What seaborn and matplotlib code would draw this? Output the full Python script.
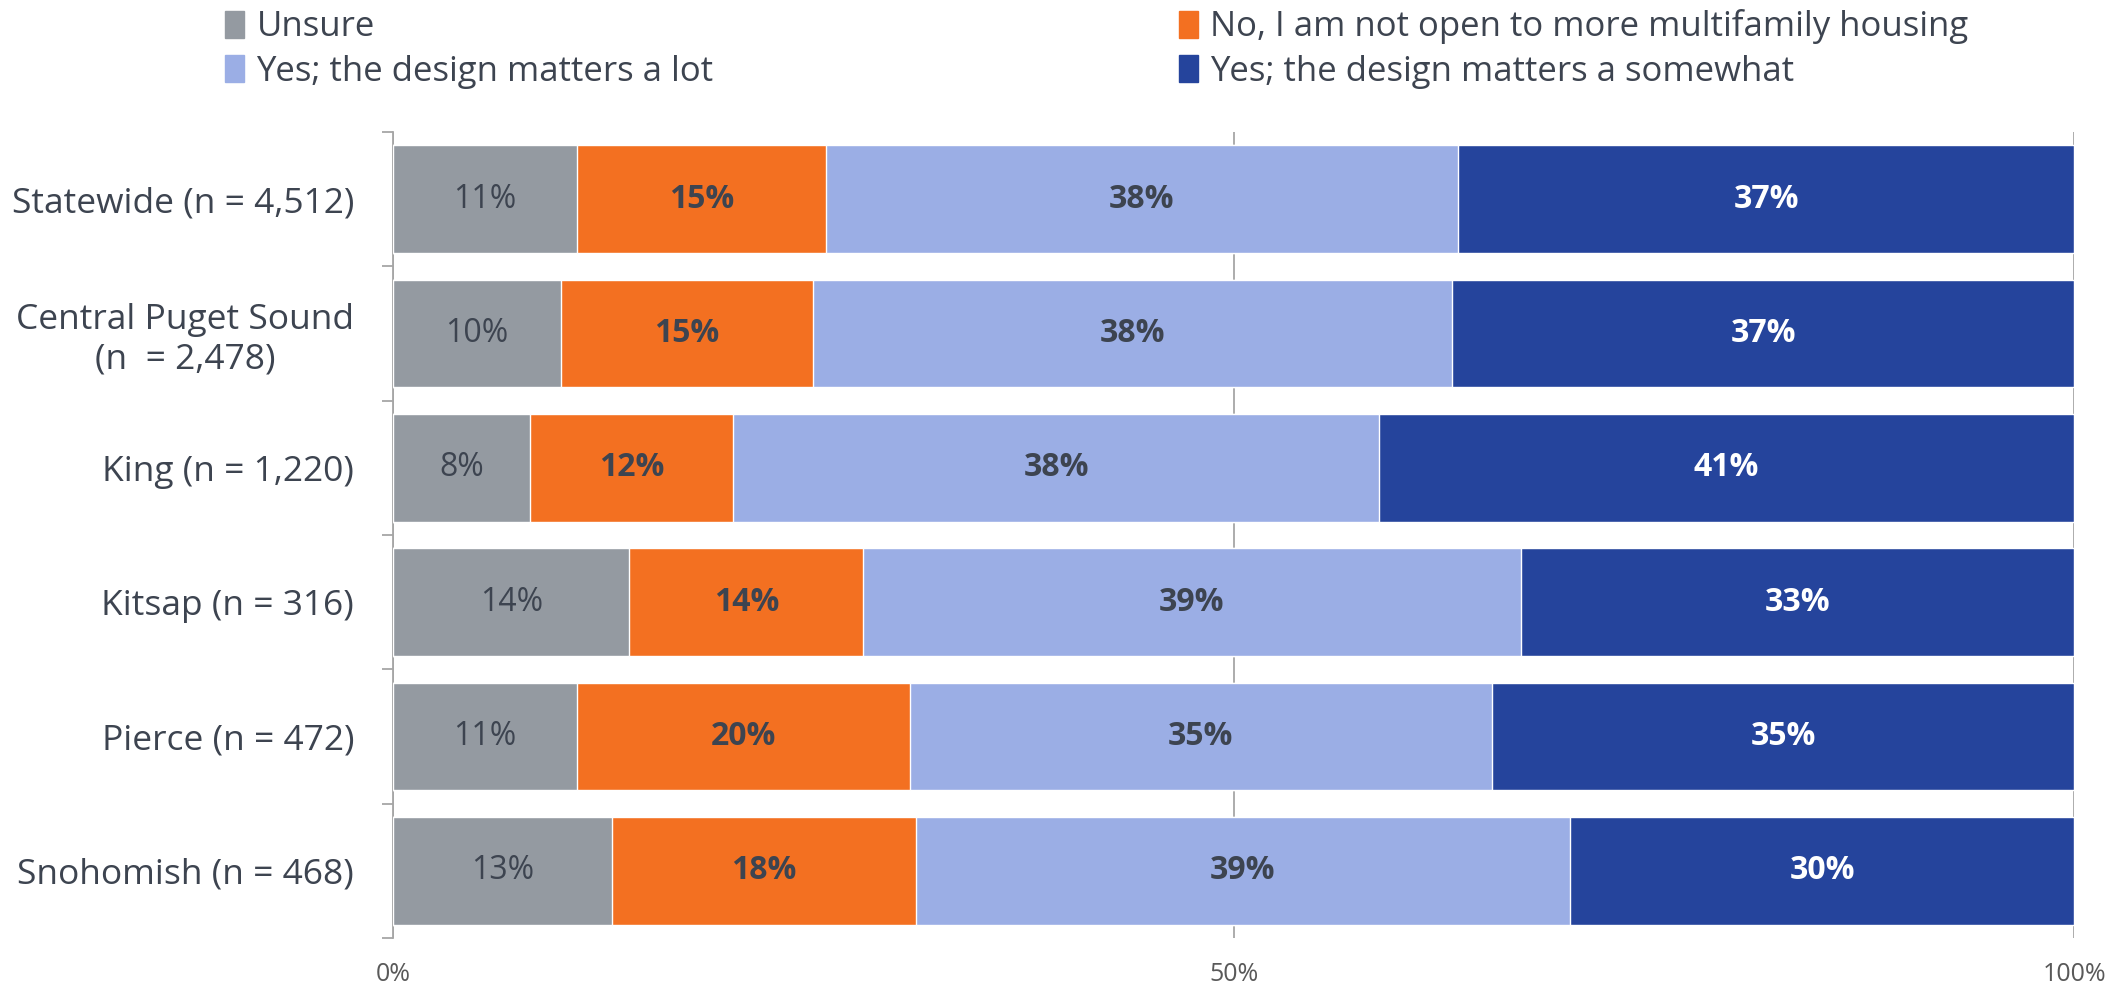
import numpy as np
import pandas as pd
import seaborn as sns
import matplotlib.pyplot as plt
from matplotlib.patches import Patch

# Data (share of respondents, %)
regions = ['Statewide (n = 4,512)', 'Central Puget Sound\n(n  = 2,478)', 'King (n = 1,220)',
           'Kitsap (n = 316)', 'Pierce (n = 472)', 'Snohomish (n = 468)']
unsure = [10.95, 10.0, 8.15, 14.07, 10.95, 13.03]
no_open = [14.8, 15.0, 12.1, 13.9, 19.8, 18.07]
yes_lot = [37.6, 38.0, 38.4, 39.1, 34.6, 38.9]
yes_somewhat = [36.65, 37.0, 41.35, 32.93, 34.65, 30.0]

series_names = ['Unsure', 'No, I am not open to more multifamily housing',
                'Yes; the design matters a lot', 'Yes; the design matters a somewhat']
colors = ['#949aa1', '#f37021', '#9baee5', '#25449c']
text_col = '#3d4450'

df = pd.DataFrame({'region': regions, series_names[0]: unsure, series_names[1]: no_open,
                   series_names[2]: yes_lot, series_names[3]: yes_somewhat})
cum = df[series_names].cumsum(axis=1)

sns.set_theme(style='white')
plt.rcParams['font.family'] = ['Open Sans', 'DejaVu Sans']

fig = plt.figure(figsize=(21.08, 9.92), dpi=100)
ax = fig.add_axes([0.1864, 0.0544, 0.7976, 0.8126])

# stacked bars: draw cumulative totals from the back to the front
for name, col in reversed(list(zip(series_names, colors))):
    sns.barplot(x=cum[name], y=df['region'], color=col, orient='h', width=0.8,
                saturation=1, ax=ax, zorder=3)

# segment labels
for i in range(len(regions)):
    for k, name in enumerate(series_names):
        v = df[name].iloc[i]
        mid = cum[name].iloc[i] - v / 2
        weight = 'normal' if k == 0 else 'bold'
        tc = 'white' if k == 3 else text_col
        ax.text(mid, i, f'{v:.0f}%', ha='center', va='center', fontsize=23,
                fontweight=weight, color=tc, zorder=4)

ax.set_xlim(0, 100)
ax.set_ylim(len(regions) - 0.5, -0.5)
ax.set_xticks([0, 50, 100])
ax.set_xticklabels(['0%', '50%', '100%'])
ax.xaxis.grid(True, color='#a6a6a6', linewidth=1.3, zorder=0)
ax.tick_params(axis='x', length=0, labelsize=18, labelcolor='#595959', pad=17)
ax.set_xlabel('')
ax.set_ylabel('')

# category separators as ticks on the left spine
ax.set_yticks(np.arange(len(regions)))
ax.set_yticklabels(regions, fontsize=25.5, color=text_col, multialignment='center')
ax.set_yticks(np.arange(len(regions) + 1) - 0.5, minor=True)
ax.tick_params(axis='y', which='major', length=0, pad=28)
ax.tick_params(axis='y', which='minor', length=8, width=1.3, color='#a6a6a6', left=True)

for s in ['top', 'right', 'bottom']:
    ax.spines[s].set_visible(False)
ax.spines['left'].set_color('#a6a6a6')
ax.spines['left'].set_linewidth(1.3)

# legend: two columns, filled column-wise
handles = [Patch(color=c, label=n) for n, c in zip(series_names, colors)]
order = [0, 2, 1, 3]
fig.legend([handles[j] for j in order], [series_names[j] for j in order], ncol=2,
           loc='upper left', bbox_to_anchor=(0.092, 1.022), frameon=False, fontsize=25,
           labelcolor=text_col, handlelength=0.55, handleheight=0.8, handletextpad=0.35,
           columnspacing=13.4, labelspacing=0.3)

fig.savefig('out.png', dpi=100)
